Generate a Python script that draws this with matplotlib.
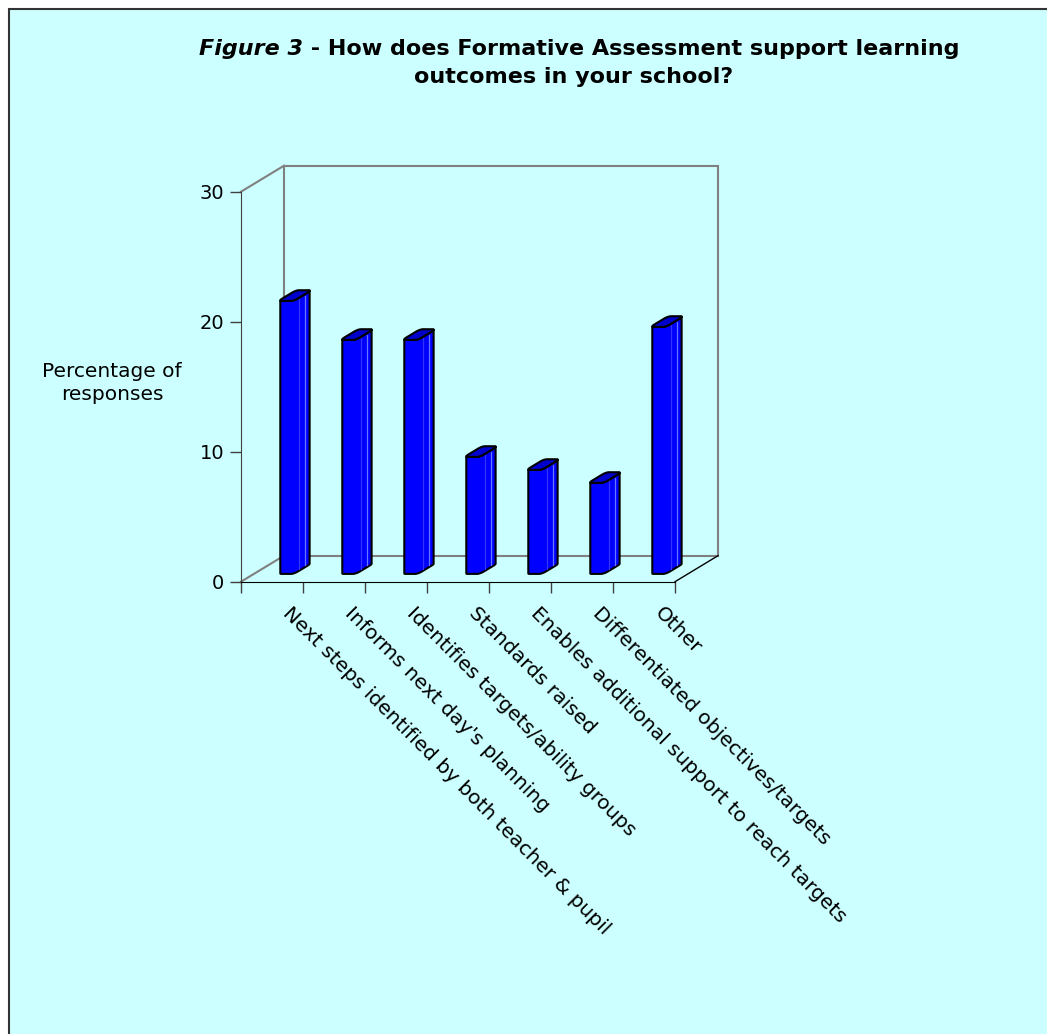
import matplotlib
matplotlib.use('Agg')
import numpy as np
import matplotlib.pyplot as plt
from matplotlib.patches import Polygon, Rectangle

# survey results (% of responses)
categories = [
    "Next steps identified by both teacher & pupil",
    "Informs next day's planning",
    "Identifies targets/ability groups",
    "Standards raised",
    "Enables additional support to reach targets",
    "Differentiated objectives/targets",
    "Other",
]
values = [21, 18, 18, 9, 8, 7, 19]
y_ticks = [0, 10, 20, 30]

W, H = 1047, 1034
fig = plt.figure(figsize=(W / 100, H / 100), dpi=100)
fig.patch.set_facecolor('white')

# cyan panel behind everything
fig.add_artist(Rectangle((8.5 / W, -0.05), 1.1, 1 - 8.5 / H + 0.05,
                         transform=fig.transFigure, facecolor='#CCFFFF',
                         edgecolor='#333333', lw=1.5, zorder=0))

ax = fig.add_axes([241 / W, (H - 581.7) / H, 434 / W, 390 / H])
ax.patch.set_visible(False)
ax.set_xlim(0, len(categories))
ax.set_ylim(0, 30)
for s in ['top', 'right']:
    ax.spines[s].set_visible(False)
ax.spines['left'].set_color('#404040')
ax.spines['bottom'].set_color('black')
ax.set_xticks(range(len(categories) + 1))
ax.set_xticklabels([])
ax.set_yticks(y_ticks)
ax.tick_params(axis='x', length=8, width=1, color='#404040')
ax.tick_params(axis='y', length=8, width=1, color='#404040', labelsize=14, pad=4)

# fake 3D: depth shifts things right and up
KX = 43 / 62
KY = 2.0


def proj(x, y, d):
    return (x + d * KX, y + d * KY)


n = len(categories)
grey = '#808080'
ax.add_patch(Polygon([proj(0, 0, 1), proj(n, 0, 1), proj(n, 30, 1), proj(0, 30, 1)],
                     closed=True, fill=False, edgecolor=grey, lw=1.5, clip_on=False, zorder=1))
ax.plot(*zip(proj(0, 0, 0), proj(0, 0, 1)), color=grey, lw=1.5, clip_on=False, zorder=1)
ax.plot(*zip(proj(0, 30, 0), proj(0, 30, 1)), color=grey, lw=1.5, clip_on=False, zorder=1)
ax.plot(*zip(proj(n, 0, 0), proj(n, 0, 1)), color='black', lw=1, clip_on=False, zorder=1)

# bar cross-section: rounded rectangle in (u, depth)
hw = 0.125
shift = 0.02
d0, d1 = 0.3, 0.71
ru, rd = 0.045, 0.09
corners = [(-hw + ru, d0 + rd, 180), (hw - ru, d0 + rd, 270),
           (hw - ru, d1 - rd, 0), (-hw + ru, d1 - rd, 90)]
foot = []
for cu, cd, a0 in corners:
    for a in np.radians(np.linspace(a0, a0 + 90, 7)):
        foot.append((shift + cu + ru * np.cos(a), cd + rd * np.sin(a)))
px = [u + d * KX for u, d in foot]
front_chain = foot[int(np.argmin(px)):int(np.argmax(px)) + 1]

for i, v in enumerate(values):
    c = i + 0.5
    body = [proj(c + u, 0, d) for u, d in front_chain] + \
           [proj(c + u, v, d) for u, d in front_chain[::-1]]
    ax.add_patch(Polygon(body, closed=True, facecolor='#0000FF', edgecolor='black',
                         lw=1.5, joinstyle='round', clip_on=False, zorder=3))
    top = [proj(c + u, v, d) for u, d in foot]
    ax.add_patch(Polygon(top, closed=True, facecolor='#0000CC', edgecolor='black',
                         lw=1.5, joinstyle='round', clip_on=False, zorder=4))
    # light streaks on the side
    for dm, col in [(d0 + 0.12, '#3333FF'), ((d0 + d1) / 2 + 0.05, '#6677FF')]:
        ax.plot(*zip(proj(c + shift + hw, 0.15, dm), proj(c + shift + hw, v - 0.1, dm)),
                color=col, lw=0.9, clip_on=False, zorder=3.5)

# rotated category labels
for i, lab in enumerate(categories):
    ax.text(i + 0.83, -1.7, lab, rotation=-45, rotation_mode='anchor',
            ha='left', va='top', fontsize=14.5, clip_on=False)

fig.text(112 / W, 1 - 383 / H, "Percentage of\nresponses", ha='center', va='center',
         fontsize=14.5, linespacing=1.3)

# title, first part in italics
fs = 16
y1 = 1 - 55 / H
y2 = 1 - 83 / H
r = fig.canvas.get_renderer()
ta = fig.text(0, y1, "Figure 3", fontsize=fs, fontweight='bold', fontstyle='italic', va='baseline')
tb = fig.text(0, y1, " - How ", fontsize=fs, fontweight='bold', va='baseline')
tc = fig.text(0, y1, "does Formative Assessment support learning", fontsize=fs,
              fontweight='bold', va='baseline')
wa = ta.get_window_extent(r).width
wb = tb.get_window_extent(r).width
x_does = 390
ta.set_x((x_does - wa - wb) / W)
tb.set_x((x_does - wb) / W)
tc.set_x(x_does / W)
fig.text(573.5 / W, y2, "outcomes in your school?", fontsize=fs, fontweight='bold',
         ha='center', va='baseline')

fig.savefig('out.png', dpi=100)
